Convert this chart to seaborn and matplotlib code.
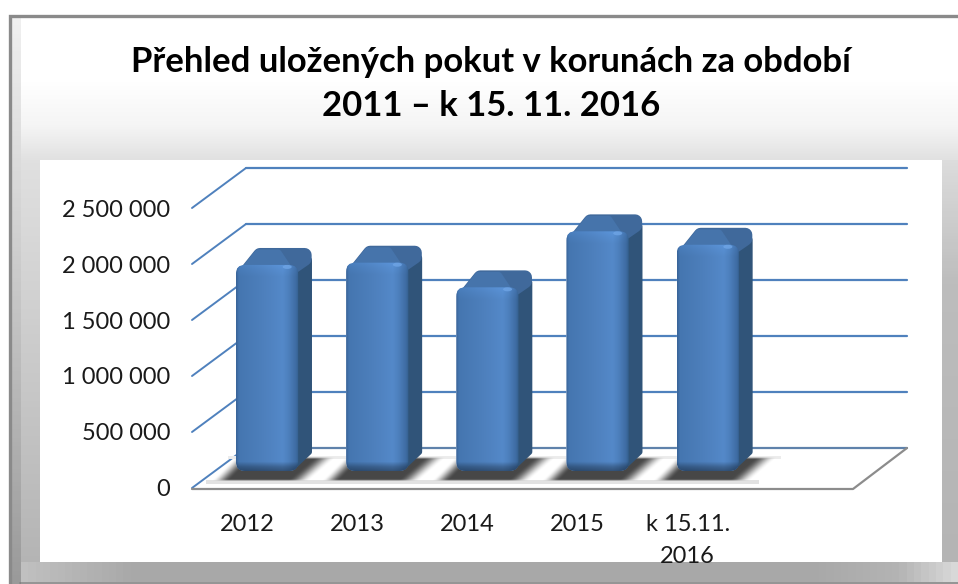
import numpy as np
import pandas as pd
import matplotlib
matplotlib.use('Agg')
import matplotlib.pyplot as plt
import seaborn as sns
from matplotlib.colors import to_rgb
from matplotlib.patches import Ellipse, FancyBboxPatch, Polygon, Rectangle
from matplotlib.transforms import Affine2D

categories = ['2012', '2013', '2014', '2015', 'k 15.11.\n2016']
values = [1840000, 1860000, 1640000, 2140000, 2020000]
y_ticks = [0, 500000, 1000000, 1500000, 2000000, 2500000]
y_labels = ['0', '500 000', '1 000 000', '1 500 000', '2 000 000', '2 500 000']
title_text = 'Přehled uložených pokut v korunách za období\n2011 – k 15. 11. 2016'

W, H = 958, 584
BACK_X, BACK_Y = 54, 40     # hloubka 3D grafu
BAR_X, BAR_Y = 20, 17       # posun sloupcu od predni hrany
BLUE = '#4F81BD'

sns.set_theme(style='white')
plt.rcParams['font.family'] = ['Lato', 'DejaVu Sans']

fig = plt.figure(figsize=(W / 100, H / 100), dpi=100, facecolor='white')


def pixel_axes(zorder):
    a = fig.add_axes([0, 0, 1, 1], zorder=zorder)
    a.set_xlim(0, W)
    a.set_ylim(H, 0)
    a.axis('off')
    a.patch.set_alpha(0)
    return a


def gradient(a, box, stops, vertical=True):
    # linearni prechod mezi barvami
    x0, x1, y0, y1 = box
    t = np.linspace(0, 1, 128)
    u = [s[0] for s in stops]
    rgb = np.stack([np.interp(t, u, [to_rgb(s[1])[i] for s in stops]) for i in range(3)], axis=-1)
    img = rgb[:, None, :] if vertical else rgb[None, :, :]
    im = a.imshow(img, extent=(x0, x1, y1, y0), origin='upper', aspect='auto', zorder=1)
    a.set_xlim(0, W)
    a.set_ylim(H, 0)
    return im


bg = pixel_axes(0)
# horni pas
gradient(bg, (12, 958, 16, 162), [(0, '#ffffff'), (0.45, '#ffffff'), (0.75, '#f5f5f5'), (1, '#e0e0e0')])
# levy pas
gradient(bg, (21, 40, 160, 566), [(0, '#e0e0e0'), (1, '#b4b4b4')])
gradient(bg, (12, 21, 16, 584), [(0, '#f0f0f0'), (0.3, '#d8d8d8'), (1, '#9a9a9a')])
# pravy pas
gradient(bg, (942, 958, 160, 566), [(0, '#dcdcdc'), (0.3, '#bdbdbd'), (1, '#b4b4b4')])
# dolni pas
gradient(bg, (21, 958, 562, 582), [(0, '#c0c0c0'), (0.12, '#a8a8a8'), (0.85, '#a8a8a8'), (0.94, '#b4b4b4'), (1, '#d8d8d8')], vertical=False)
bg.add_patch(Rectangle((40, 160), 902, 402, fc='white', ec='none', zorder=2))
bg.plot([10.5, 10.5, W], [H, 15.5, 15.5], color='#8a8a8a', lw=2.4, zorder=3, solid_joinstyle='miter')
bg.plot([20, W], [582.5, 582.5], color='#808080', lw=1.2, zorder=3)

# predni rovina grafu: 0 na y=488, 2 500 000 na y=208
ax = fig.add_axes([192 / W, 1 - 488 / H, 661 / W, 280 / H], zorder=1)
ax.patch.set_alpha(0)
df = pd.DataFrame({'rok': categories, 'pokuty': values})
sns.barplot(data=df, x='rok', y='pokuty', color=BLUE, saturation=1, width=0.565, ax=ax)
ax.set_xlim(-0.5, 5.5)
ax.set_ylim(0, 2500000)
ax.set_xlabel('')
ax.set_ylabel('')
ax.set_yticks(y_ticks)
ax.set_yticklabels(y_labels)
ax.tick_params(axis='y', length=0, pad=15.5, labelsize=17, labelcolor='#1a1a1a')
ax.tick_params(axis='x', length=0, pad=19, labelsize=17, labelcolor='#1a1a1a')
sns.despine(ax=ax, left=True, bottom=True)
for lab in ax.get_xticklabels():
    lab.set_linespacing(1.6)
    lab.set_clip_on(True)
    lab.set_clip_path(Rectangle((40, 160), 902, 404, transform=bg.transData))

title = fig.text(491 / W, 1 - 84 / H, title_text, ha='center', va='center', fontsize=24.9,
                 fontweight='bold', color='black', linespacing=1.49, zorder=5)


def to_px(x, v):
    px, py = ax.transData.transform((x, v))
    return px, H - py


# mrizka na zadni stene a bocni uhlopricky
x_left, _ = to_px(-0.5, 0)
x_right, y_base = to_px(5.5, 0)
for v in y_ticks:
    px, py = to_px(-0.5, v)
    bg.plot([px, px + BACK_X], [py, py - BACK_Y], color=BLUE, lw=1.4, zorder=4)
    back_col = '#5f82ab' if v == 0 else BLUE
    bg.plot([px + BACK_X, x_right + BACK_X], [py - BACK_Y] * 2, color=back_col, lw=1.6, zorder=4)
bg.plot([x_left, x_right, x_right + BACK_X], [y_base + 1, y_base + 1, y_base - BACK_Y],
        color='#8c8c8c', lw=1.6, zorder=4)


def smooth(t):
    t = np.clip(t, 0, 1)
    return t * t * (3 - 2 * t)


# 3D vzhled sloupcu
top = pixel_axes(2)
for bar in ax.patches:
    x0, y_top = to_px(bar.get_x(), bar.get_height())
    x1, y_bot = to_px(bar.get_x() + bar.get_width(), 0)
    x0, x1 = x0 + BAR_X, x1 + BAR_X
    y_top, y_bot = y_top - BAR_Y, y_bot - BAR_Y

    # svetle pasy kolem stinu
    bg.add_patch(Rectangle((x0 - 30, y_bot + 9), 112, 4, fc='#e2e2e2', ec='none', zorder=5))
    bg.add_patch(Rectangle((x0 - 8, y_bot - 15), 112, 3, fc='#ececec', ec='none', zorder=5))

    # stin na podlaze, rozmazany kosodelnik
    sx0, sx1, sy0, sy1 = x0 - 34, x0 + 112, y_bot - 14, y_bot + 10
    xx, yy = np.meshgrid(np.arange(sx0, sx1), np.arange(sy0, sy1))
    frac = (yy - sy0) / (sy1 - sy0)
    edge_l = x0 - 26 + 24 * (1 - frac)
    edge_r = x0 + 72 + 28 * (1 - frac)
    a_x = smooth((xx - edge_l) / 18) * smooth((edge_r - xx) / 22)
    a_y = smooth((yy - sy0 + 1) / 3) * smooth((sy1 - yy) / 2.5)
    rgba = np.zeros(xx.shape + (4,))
    rgba[..., :3] = 0.28
    rgba[..., 3] = a_x * a_y
    bg.imshow(rgba, extent=(sx0, sx1, sy1, sy0), origin='upper', aspect='auto', zorder=6)
    bg.set_xlim(0, W)
    bg.set_ylim(H, 0)

    # bocni stena
    side = [(x1 - 5, y_top + 9), (x1 + 11, y_top - 5), (x1 + 11, y_bot - 19), (x1 - 5, y_bot - 4)]
    top.add_patch(Polygon(side, fc='#305479', ec='#305479', lw=4, joinstyle='round', zorder=2))
    # horni plocha
    cap = [(x0 + 8, y_top + 10), (x0 + 24, y_top - 10), (x1 + 6.5, y_top - 10), (x1 + 6.5, y_top - 6), (x1 - 8, y_top + 4)]
    top.add_patch(Polygon(cap, fc='#40699b', ec='#40699b', lw=10, joinstyle='round', zorder=3))
    cap2 = [(x0 + 6, y_top + 8), (x0 + 22, y_top - 12), (x1 - 20, y_top - 12), (x1 - 8, y_top + 6)]
    top.add_patch(Polygon(cap2, fc='#4674ab', ec='#4674ab', lw=5, joinstyle='round', zorder=3))

    # predni stena s prechodem, klip zaoblenym obdelnikem
    r = 9
    face = FancyBboxPatch((x0 + r, y_top + r), x1 - x0 - 2 * r, y_bot - y_top - 2 * r,
                          boxstyle='round,pad=%d,rounding_size=%d' % (r, r), fc='none', ec='none', zorder=4)
    top.add_patch(face)
    bar.set_transform(ax.transData + Affine2D().translate(BAR_X, BAR_Y))
    bar.set_clip_path(face)
    u = np.linspace(0, 1, 64)
    v = np.linspace(0, 1, 256)
    stops = [(0, '#3a659a'), (0.04, '#4576b0'), (0.45, '#4e80bd'), (0.75, '#5489c9'), (0.84, '#4d80bd'), (0.96, '#3f6ca3'), (1, '#34608f')]
    col = np.stack([np.interp(u, [s[0] for s in stops], [to_rgb(s[1])[i] for s in stops]) for i in range(3)], axis=-1)
    px_v = v * (y_bot - y_top)
    shade = np.interp(px_v, [0, 5, 12, y_bot - y_top - 9, y_bot - y_top - 4, y_bot - y_top], [1.08, 1.04, 1, 1, 0.75, 0.62])
    img = np.clip(col[None, :, :] * shade[:, None, None], 0, 1)
    im = top.imshow(img, extent=(x0, x1, y_bot, y_top), origin='upper', aspect='auto', zorder=4)
    im.set_clip_path(face)
    top.add_patch(Ellipse((x1 - 11, y_top + 2), 9, 4, fc='#6fa5e6', ec='none', alpha=0.8, zorder=5))
    top.set_xlim(0, W)
    top.set_ylim(H, 0)

fig.savefig('out.png', dpi=100)
